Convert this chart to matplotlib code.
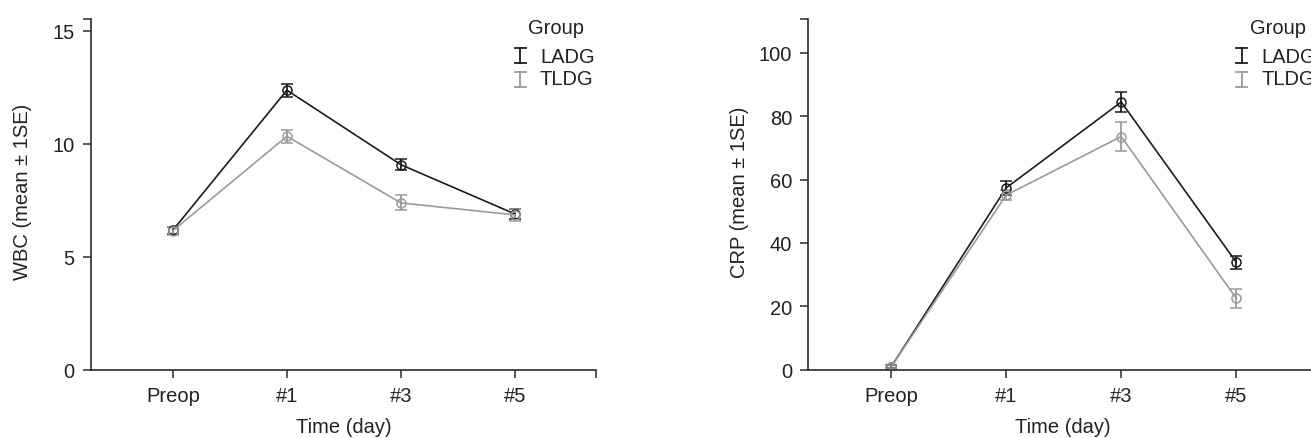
import matplotlib
matplotlib.use("Agg")
import matplotlib.pyplot as plt
import numpy as np

# ---- data ----
days = ["Preop", "#1", "#3", "#5"]
groups = ["LADG", "TLDG"]

wbc_ladg = [6.17, 12.37, 9.07, 6.89]
wbc_ladg_se = [0.15, 0.28, 0.24, 0.22]
wbc_tldg = [6.15, 10.33, 7.38, 6.85]
wbc_tldg_se = [0.17, 0.28, 0.33, 0.28]

crp_ladg = [0.9, 57.4, 84.5, 33.9]
crp_ladg_se = [0.5, 2.3, 3.2, 2.0]
crp_tldg = [0.9, 55.1, 73.6, 22.5]
crp_tldg_se = [0.5, 1.5, 4.7, 2.9]

wbc_yticks = [0, 5, 10, 15]
crp_yticks = [0, 20, 40, 60, 80, 100]

# ---- style ----
plt.rcParams['font.family'] = ['Liberation Sans', 'DejaVu Sans']
FS = 14.5
AX_COL = "#2b2b2b"
COLORS = {"LADG": "#1c1c1c", "TLDG": "#9a9a9a"}

W, H = 1311, 439
fig = plt.figure(figsize=(W / 100, H / 100), dpi=100)

def px_axes(x0, x1, y_top, y_bot):
    return [x0 / W, (H - y_bot) / H, (x1 - x0) / W, (y_bot - y_top) / H]

ax1 = fig.add_axes(px_axes(90.7, 596.0, 20.0, 370.7))
ax2 = fig.add_axes(px_axes(808.3, 1318.0, 20.0, 370.7))

XLIM = (-0.72, 3.71)

def draw(ax, ladg, ladg_se, tldg, tldg_se, yticks, ytop, ylabel):
    x = np.arange(len(days))
    for name, vals, se in (("LADG", ladg, ladg_se), ("TLDG", tldg, tldg_se)):
        c = COLORS[name]
        ax.errorbar(x, vals, yerr=se, fmt='-o', color=c, ecolor=c,
                    mfc='none', mec=c, ms=6.5, mew=1.1, lw=1.2,
                    elinewidth=1.3, capsize=4.2, capthick=1.3)
    ax.set_xlim(*XLIM)
    ax.set_ylim(0, ytop)
    ax.set_xticks(list(x) + [XLIM[1]])
    ax.set_xticklabels(days + [""])
    ax.set_yticks(yticks + [ytop])
    ax.set_yticklabels([str(v) for v in yticks] + [""])
    for s in ("top", "right"):
        ax.spines[s].set_visible(False)
    for s in ("left", "bottom"):
        ax.spines[s].set_color(AX_COL)
        ax.spines[s].set_linewidth(1.2)
        ax.spines[s].set_clip_on(False)
    ax.tick_params(axis='both', direction='out', length=6, width=1.1,
                   color=AX_COL, labelsize=FS, labelcolor="#222222", pad=5.5)
    ax.set_xlabel("Time (day)", fontsize=FS, color="#222222")
    ax.set_ylabel(ylabel, fontsize=FS, color="#222222")
    ax.xaxis.set_label_coords(0.5, -0.135)
    ax.yaxis.set_label_coords(-0.117, 0.51)

    # legend (manual, error-bar style glyph)
    ax.text(0.921, 0.976, "Group", transform=ax.transAxes, ha='center',
            va='center', fontsize=FS, color="#222222", clip_on=False)
    ys = {"LADG": (0.9165, 0.8737, 0.8936), "TLDG": (0.8497, 0.8052, 0.829)}
    for name in groups:
        c = COLORS[name]
        y0, y1, yt = ys[name]
        xs = 0.850
        hw = 0.0109
        ax.plot([xs, xs], [y0, y1], transform=ax.transAxes, color=c, lw=1.3,
                clip_on=False)
        ax.plot([xs - hw, xs + hw], [y0, y0], transform=ax.transAxes, color=c,
                lw=1.3, clip_on=False)
        ax.plot([xs - hw, xs + hw], [y1, y1], transform=ax.transAxes, color=c,
                lw=1.3, clip_on=False)
        ax.text(0.889, yt, name, transform=ax.transAxes, ha='left', va='center',
                fontsize=FS, color="#222222", clip_on=False)

draw(ax1, wbc_ladg, wbc_ladg_se, wbc_tldg, wbc_tldg_se, wbc_yticks, 15.52,
     "WBC (mean \u00b1 1SE)")
draw(ax2, crp_ladg, crp_ladg_se, crp_tldg, crp_tldg_se, crp_yticks, 110.7,
     "CRP (mean \u00b1 1SE)")

fig.savefig("out.png", dpi=100, facecolor="white")
